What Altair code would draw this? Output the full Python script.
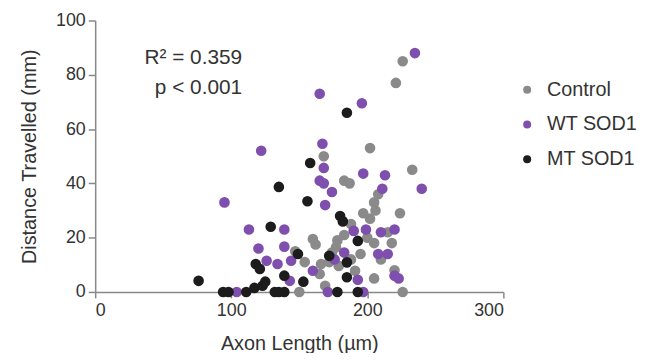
import altair as alt
import pandas as pd

groups = ["Control", "WT SOD1", "MT SOD1"]
colors = ["#8a8a8a", "#7f4fae", "#1c1c1c"]

control_x = [226, 221, 233, 168, 202, 183, 187, 208, 205, 197, 202, 206, 224, 188, 183, 178,
             215, 218, 200, 205, 160, 162, 177, 147, 174, 188, 154, 166, 172, 179, 191, 165,
             169, 150, 226, 220, 205, 195, 210]
control_y = [85, 77, 45, 50, 53, 41, 40, 36, 33, 29, 27, 30, 29, 25, 21, 19,
             22, 18, 20, 18, 19.5, 17.5, 16.5, 15, 14.5, 12, 11, 10.3, 11, 9.6, 7.8, 6.6,
             2.3, 0, 0, 8, 5, 14, 12]

wt_x = [95, 104, 113, 122, 120, 126, 134, 139, 139, 144, 143, 160, 165, 167, 168, 165,
        168, 174, 169, 197, 190, 199, 183, 176, 193, 171, 197, 196, 213, 211, 210, 220,
        215, 220, 223, 235, 240, 208]
wt_y = [33, 0, 23, 52, 16, 11.5, 10.3, 23, 16.7, 11.5, 4.1, 7.8, 73, 54.6, 45.7, 41,
        40, 36.8, 32, 43.6, 22.5, 23, 14.5, 12, 4.5, 0, 0, 69.5, 43, 38, 22, 23,
        14, 6, 5, 88, 38, 14]

mt_x = [76, 94, 98, 111, 117, 123, 125, 118, 129, 135, 132, 135, 139, 139, 149, 153,
        156, 158, 185, 172, 180, 182, 193, 185, 185, 178, 193, 121]
mt_y = [4.1, 0, 0, 0, 1.5, 2.3, 3.8, 10.3, 24, 38.7, 0, 0, 0, 6, 14, 3.8,
        33.4, 47.5, 66, 13.3, 28, 26, 18.8, 10.9, 5.4, 0, 0, 8.5]

x_ticks = [0, 100, 200, 300]
y_ticks = [0, 20, 40, 60, 80, 100]

ann_text = ["R² = 0.359", "p < 0.001"]
ann_x = [108, 108]
ann_y = [86, 75]

rows = []
for g, xs, ys in zip(groups, [control_x, wt_x, mt_x], [control_y, wt_y, mt_y]):
    for a, b in zip(xs, ys):
        rows.append({"group": g, "x": a, "y": b})
df = pd.DataFrame(rows)
ann = pd.DataFrame({"t": ann_text, "x": ann_x, "y": ann_y})

font = "Liberation Sans"

points = alt.Chart(df).mark_circle(size=115, opacity=1).encode(
    x=alt.X("x:Q", scale=alt.Scale(domain=[0, 300], nice=False, zero=True),
            axis=alt.Axis(values=x_ticks, title="Axon Length (µm)", grid=False,
                          tickSize=6, labelFontSize=18, titleFontSize=20,
                          labelPadding=4, titlePadding=14, format="d")),
    y=alt.Y("y:Q", scale=alt.Scale(domain=[0, 100], nice=False),
            axis=alt.Axis(values=y_ticks, title="Distance Travelled (mm)", grid=False,
                          tickSize=7, labelFontSize=18, titleFontSize=20,
                          labelPadding=3, titlePadding=16, format="d")),
    color=alt.Color("group:N", scale=alt.Scale(domain=groups, range=colors),
                    legend=alt.Legend(title=None, orient="none", legendX=426, legendY=60,
                                      symbolSize=65, labelFontSize=20, rowPadding=15,
                                      symbolType="circle", labelOffset=10)),
    order=alt.Order("gidx:Q"),
).transform_calculate(gidx="indexof(['Control','WT SOD1','MT SOD1'], datum.group)")

text = alt.Chart(ann).mark_text(align="right", baseline="middle", fontSize=21,
                                font=font, color="#333333").encode(
    x="x:Q", y="y:Q", text="t:N")

chart = alt.layer(points, text).properties(
    width=412, height=274,
    autosize=alt.AutoSizeParams(type="none"),
    padding={"left": 88, "top": 11, "right": 150, "bottom": 60},
).configure_view(stroke=None).configure_axis(
    domainColor="#888888", tickColor="#888888", domainWidth=1.5, tickWidth=1.5,
    labelColor="#333333", titleColor="#333333", labelFont=font, titleFont=font,
    titleFontWeight="normal",
).configure_legend(labelFont=font, labelColor="#333333")

chart.save("out.html", embed_options={"renderer": "svg", "actions": False})
